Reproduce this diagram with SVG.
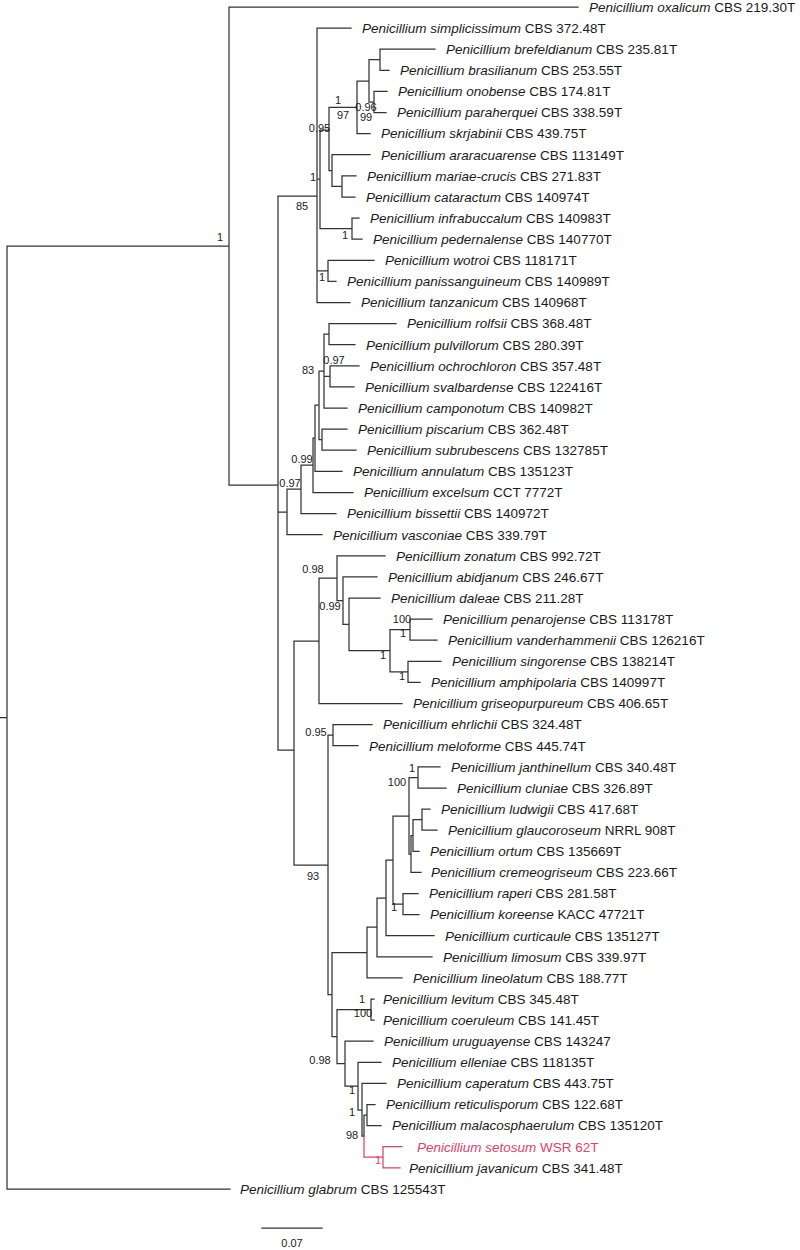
<svg xmlns="http://www.w3.org/2000/svg" width="800" height="1250" viewBox="0 0 800 1250">
<style>
.br{fill:none;stroke:#333;stroke-width:1.25;stroke-linecap:square}
.pk{fill:none;stroke:#e2406c;stroke-width:1.25;stroke-linecap:square}
.tx{font-family:"Liberation Sans",Arial,sans-serif;font-size:13.5px;fill:#1a1a1a}
.tx .i{font-style:italic}
.sp{font-family:"Liberation Sans",Arial,sans-serif;font-size:11px;fill:#1a1a1a;text-anchor:middle}
.pt{fill:#e2406c}
</style>
<rect width="800" height="1250" fill="#fff"/>
<g id="connectors">
<path class="br" d="M7,246V1189M0,717.5H7M7,1189H230
M229,7V485M7,246H229M229,7H578
M278,196V750M229,485H278
M317,28.1V302.5M278,196H317M317,28.1H351M317,302.5H350
M320,130V228.6M317,179H320
M329,107.3V170.5M320,130H329
M357,81V133.6M329,107.3H357M357,133.6H370
M369,59.7V102M357,81H369
M380,49.2V70.3M369,59.7H380M380,49.2H435M380,70.3H389
M374,91.4V112.5M369,102H374M374,91.4H387M374,112.5H386
M332,154.7V186.4M329,170.5H332M332,154.7H370
M342,175.9V197M332,186.4H342M342,175.9H356M342,197H355
M352,218.1V239.2M320,228.6H352M352,218.1H359M352,239.2H362
M328,260.3V281.4M317,270.8H328M328,260.3H374M328,281.4H336
M287,489V534.7M278,512H287M287,534.7H322
M301,465V513.6M287,489H301M301,513.6H336
M313,438V492.5M301,465H313M313,492.5H353
M315,405V471.4M313,438H315M315,471.4H342
M319,371V439.7M315,405H319
M322,429.1V450.2M319,439.7H322M322,429.1H347M322,450.2H356
M324,334.2V408M319,371H324M324,408H347
M329,323.6V344.7M324,334.2H329M329,323.6H396M329,344.7H355
M330,365.8V386.9M324,376.4H330M330,365.8H359M330,386.9H354
M294,641V865M278,750H294
M319,578V703.5M294,641H319M319,703.5H402
M337,555.8V600.6M319,578H337M337,555.8H385
M343,576.9V624.4M337,600.6H343M343,576.9H377
M349,598V650.7M343,624.4H349M349,598H380
M390,629.6V671.8M349,650.7H390
M410,619.1V640.2M390,629.6H410M410,619.1H432M410,640.2H437
M408,661.3V682.4M390,671.8H408M408,661.3H441M408,682.4H420
M328,735V994.5M294,865H328
M333,724.6V745.7M328,735H333M333,724.6H372M333,745.7H358
M332,952.5V1036.6M328,994.5H332
M367,927V977.9M332,952.5H367M367,977.9H402
M377,898V956.8M367,927H377M377,956.8H432
M386,860V935.7M377,898H386M386,935.7H434
M393,816V904M386,860H393
M403,893.5V914.6M393,904H403M403,893.5H418M403,914.6H419
M409,777.5V854M393,816H409
M418,766.9V788M409,777.5H418M418,766.9H440M418,788H446
M411,835.5V872.4M409,854H411M411,872.4H421
M413,819.7V851.3M411,835.5H413M413,851.3H419
M422,809.1V830.2M413,819.7H422M422,809.1H430M422,830.2H437
M337,1009.6V1063.6M332,1036.6H337
M371,999V1020.1M337,1009.6H371M371,999H374M371,1020.1H374
M345,1041.2V1086M337,1063.6H345M345,1041.2H373
M358,1062.3V1110M345,1086H358M358,1062.3H381
M362,1083.4V1136M358,1110H362M362,1083.4H386
M364,1115V1136M362,1136H364
M367,1104.5V1125.6M364,1115H367M367,1104.5H375M367,1125.6H381
M262,1228H322"/>
<path class="pk" d="M364,1136V1157M364,1157H383M383,1146.7V1167.8M383,1146.7H402M383,1167.8H400"/>
</g>
<g id="support">
<text class="sp" x="220" y="240.9">1</text>
<text class="sp" x="319.5" y="131.9">0.95</text>
<text class="sp" x="313" y="180.9">1</text>
<text class="sp" x="338" y="103.9">1</text>
<text class="sp" x="343" y="118.9">97</text>
<text class="sp" x="366" y="110.9">0.96</text>
<text class="sp" x="366" y="120.9">99</text>
<text class="sp" x="302" y="209.9">85</text>
<text class="sp" x="345" y="238.9">1</text>
<text class="sp" x="322" y="280.9">1</text>
<text class="sp" x="334" y="363.9">0.97</text>
<text class="sp" x="308" y="373.9">83</text>
<text class="sp" x="302" y="462.9">0.99</text>
<text class="sp" x="290" y="486.9">0.97</text>
<text class="sp" x="313" y="572.9">0.98</text>
<text class="sp" x="330" y="609.9">0.99</text>
<text class="sp" x="402" y="622.9">100</text>
<text class="sp" x="403" y="636.9">1</text>
<text class="sp" x="383" y="658.9">1</text>
<text class="sp" x="402" y="679.9">1</text>
<text class="sp" x="316" y="735.9">0.95</text>
<text class="sp" x="412" y="771.9">1</text>
<text class="sp" x="397" y="785.9">100</text>
<text class="sp" x="313" y="879.9">93</text>
<text class="sp" x="394" y="910.9">1</text>
<text class="sp" x="362" y="1002.9">1</text>
<text class="sp" x="363" y="1016.9">100</text>
<text class="sp" x="320" y="1063.9">0.98</text>
<text class="sp" x="352" y="1093.9">1</text>
<text class="sp" x="352" y="1115.9">1</text>
<text class="sp" x="352" y="1138.9">98</text>
<text class="sp pt" x="378" y="1163.9">1</text>
<text class="sp" x="292" y="1247">0.07</text>
</g>
<g id="n01"><text class="tx" x="589" y="11.8"><tspan class="i">Penicillium oxalicum</tspan> CBS 219.30T</text></g>
<g id="n02"><text class="tx" x="362" y="32.9"><tspan class="i">Penicillium simplicissimum</tspan> CBS 372.48T</text></g>
<g id="n03"><text class="tx" x="446" y="54"><tspan class="i">Penicillium brefeldianum</tspan> CBS 235.81T</text></g>
<g id="n04"><text class="tx" x="400" y="75.1"><tspan class="i">Penicillium brasilianum</tspan> CBS 253.55T</text></g>
<g id="n05"><text class="tx" x="398" y="96.2"><tspan class="i">Penicillium onobense</tspan> CBS 174.81T</text></g>
<g id="n06"><text class="tx" x="397" y="117.3"><tspan class="i">Penicillium paraherquei</tspan> CBS 338.59T</text></g>
<g id="n07"><text class="tx" x="381" y="138.4"><tspan class="i">Penicillium skrjabinii</tspan> CBS 439.75T</text></g>
<g id="n08"><text class="tx" x="381" y="159.5"><tspan class="i">Penicillium araracuarense</tspan> CBS 113149T</text></g>
<g id="n09"><text class="tx" x="367" y="180.7"><tspan class="i">Penicillium mariae-crucis</tspan> CBS 271.83T</text></g>
<g id="n10"><text class="tx" x="366" y="201.8"><tspan class="i">Penicillium cataractum</tspan> CBS 140974T</text></g>
<g id="n11"><text class="tx" x="370" y="222.9"><tspan class="i">Penicillium infrabuccalum</tspan> CBS 140983T</text></g>
<g id="n12"><text class="tx" x="373" y="244"><tspan class="i">Penicillium pedernalense</tspan> CBS 140770T</text></g>
<g id="n13"><text class="tx" x="385" y="265.1"><tspan class="i">Penicillium wotroi</tspan> CBS 118171T</text></g>
<g id="n14"><text class="tx" x="347" y="286.2"><tspan class="i">Penicillium panissanguineum</tspan> CBS 140989T</text></g>
<g id="n15"><text class="tx" x="361" y="307.3"><tspan class="i">Penicillium tanzanicum</tspan> CBS 140968T</text></g>
<g id="n16"><text class="tx" x="407" y="328.4"><tspan class="i">Penicillium rolfsii</tspan> CBS 368.48T</text></g>
<g id="n17"><text class="tx" x="366" y="349.5"><tspan class="i">Penicillium pulvillorum</tspan> CBS 280.39T</text></g>
<g id="n18"><text class="tx" x="370" y="370.6"><tspan class="i">Penicillium ochrochloron</tspan> CBS 357.48T</text></g>
<g id="n19"><text class="tx" x="365" y="391.7"><tspan class="i">Penicillium svalbardense</tspan> CBS 122416T</text></g>
<g id="n20"><text class="tx" x="358" y="412.8"><tspan class="i">Penicillium camponotum</tspan> CBS 140982T</text></g>
<g id="n21"><text class="tx" x="358" y="433.9"><tspan class="i">Penicillium piscarium</tspan> CBS 362.48T</text></g>
<g id="n22"><text class="tx" x="367" y="455"><tspan class="i">Penicillium subrubescens</tspan> CBS 132785T</text></g>
<g id="n23"><text class="tx" x="353" y="476.2"><tspan class="i">Penicillium annulatum</tspan> CBS 135123T</text></g>
<g id="n24"><text class="tx" x="364" y="497.3"><tspan class="i">Penicillium excelsum</tspan> CCT 7772T</text></g>
<g id="n25"><text class="tx" x="347" y="518.4"><tspan class="i">Penicillium bissettii</tspan> CBS 140972T</text></g>
<g id="n26"><text class="tx" x="333" y="539.5"><tspan class="i">Penicillium vasconiae</tspan> CBS 339.79T</text></g>
<g id="n27"><text class="tx" x="396" y="560.6"><tspan class="i">Penicillium zonatum</tspan> CBS 992.72T</text></g>
<g id="n28"><text class="tx" x="388" y="581.7"><tspan class="i">Penicillium abidjanum</tspan> CBS 246.67T</text></g>
<g id="n29"><text class="tx" x="391" y="602.8"><tspan class="i">Penicillium daleae</tspan> CBS 211.28T</text></g>
<g id="n30"><text class="tx" x="443" y="623.9"><tspan class="i">Penicillium penarojense</tspan> CBS 113178T</text></g>
<g id="n31"><text class="tx" x="448" y="645"><tspan class="i">Penicillium vanderhammenii</tspan> CBS 126216T</text></g>
<g id="n32"><text class="tx" x="452" y="666.1"><tspan class="i">Penicillium singorense</tspan> CBS 138214T</text></g>
<g id="n33"><text class="tx" x="431" y="687.2"><tspan class="i">Penicillium amphipolaria</tspan> CBS 140997T</text></g>
<g id="n34"><text class="tx" x="413" y="708.3"><tspan class="i">Penicillium griseopurpureum</tspan> CBS 406.65T</text></g>
<g id="n35"><text class="tx" x="383" y="729.4"><tspan class="i">Penicillium ehrlichii</tspan> CBS 324.48T</text></g>
<g id="n36"><text class="tx" x="369" y="750.5"><tspan class="i">Penicillium meloforme</tspan> CBS 445.74T</text></g>
<g id="n37"><text class="tx" x="451" y="771.7"><tspan class="i">Penicillium janthinellum</tspan> CBS 340.48T</text></g>
<g id="n38"><text class="tx" x="457" y="792.8"><tspan class="i">Penicillium cluniae</tspan> CBS 326.89T</text></g>
<g id="n39"><text class="tx" x="441" y="813.9"><tspan class="i">Penicillium ludwigii</tspan> CBS 417.68T</text></g>
<g id="n40"><text class="tx" x="448" y="835"><tspan class="i">Penicillium glaucoroseum</tspan> NRRL 908T</text></g>
<g id="n41"><text class="tx" x="430" y="856.1"><tspan class="i">Penicillium ortum</tspan> CBS 135669T</text></g>
<g id="n42"><text class="tx" x="431" y="877.2"><tspan class="i">Penicillium cremeogriseum</tspan> CBS 223.66T</text></g>
<g id="n43"><text class="tx" x="429" y="898.3"><tspan class="i">Penicillium raperi</tspan> CBS 281.58T</text></g>
<g id="n44"><text class="tx" x="430" y="919.4"><tspan class="i">Penicillium koreense</tspan> KACC 47721T</text></g>
<g id="n45"><text class="tx" x="445" y="940.5"><tspan class="i">Penicillium curticaule</tspan> CBS 135127T</text></g>
<g id="n46"><text class="tx" x="443" y="961.6"><tspan class="i">Penicillium limosum</tspan> CBS 339.97T</text></g>
<g id="n47"><text class="tx" x="413" y="982.7"><tspan class="i">Penicillium lineolatum</tspan> CBS 188.77T</text></g>
<g id="n48"><text class="tx" x="383" y="1003.8"><tspan class="i">Penicillium levitum</tspan> CBS 345.48T</text></g>
<g id="n49"><text class="tx" x="383" y="1024.9"><tspan class="i">Penicillium coeruleum</tspan> CBS 141.45T</text></g>
<g id="n50"><text class="tx" x="384" y="1046"><tspan class="i">Penicillium uruguayense</tspan> CBS 143247</text></g>
<g id="n51"><text class="tx" x="392" y="1067.1"><tspan class="i">Penicillium elleniae</tspan> CBS 118135T</text></g>
<g id="n52"><text class="tx" x="397" y="1088.2"><tspan class="i">Penicillium caperatum</tspan> CBS 443.75T</text></g>
<g id="n53"><text class="tx" x="386" y="1109.3"><tspan class="i">Penicillium reticulisporum</tspan> CBS 122.68T</text></g>
<g id="n54"><text class="tx" x="392" y="1130.4"><tspan class="i">Penicillium malacosphaerulum</tspan> CBS 135120T</text></g>
<g id="n55"><text class="tx pt" x="417" y="1151.5"><tspan class="i">Penicillium setosum</tspan> WSR 62T</text></g>
<g id="n56"><text class="tx" x="409" y="1172.6" fill="#3a3a3a"><tspan class="i">Penicillium javanicum</tspan> CBS 341.48T</text></g>
<g id="n57"><text class="tx" x="240" y="1193.8"><tspan class="i">Penicillium glabrum</tspan> CBS 125543T</text></g>
</svg>
